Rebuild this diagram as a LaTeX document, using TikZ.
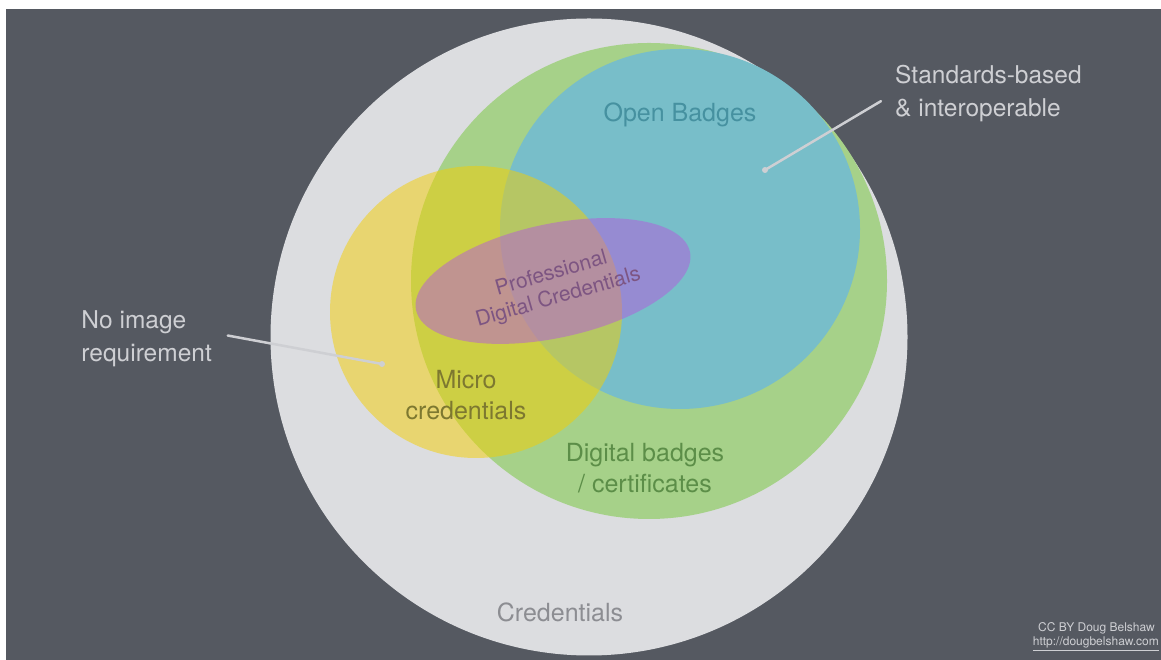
\documentclass[tikz,border=0pt]{standalone}
\usepackage{fontspec}
\setmainfont{TeX Gyre Heros}
\usetikzlibrary{shapes.geometric}
\usetikzlibrary{positioning}
\definecolor{slate}{RGB}{85,89,97}
\definecolor{credgrey}{RGB}{220,221,224}
\definecolor{badgegreen}{RGB}{166,209,137}
\definecolor{openblue}{RGB}{120,190,201}
\definecolor{microyellow}{RGB}{244,207,1}
\definecolor{profpurple}{RGB}{180,90,220}
\definecolor{notegrey}{RGB}{206,207,211}
\definecolor{credtext}{RGB}{140,141,146}
\definecolor{digitaltext}{RGB}{92,142,72}
\definecolor{opentext}{RGB}{70,145,160}
\definecolor{microtext}{RGB}{125,120,48}
\definecolor{proftext}{RGB}{125,85,130}
\tikzset{
  set/.style={circle, inner sep=0pt, draw=none},
  lbl/.style={align=center, inner sep=2pt, font=\fontsize{25}{31}\selectfont},
  note/.style={align=left, inner sep=2pt, text=notegrey, font=\fontsize{24.5}{33}\selectfont},
  foot/.style={inner sep=1pt, text=notegrey, font=\fontsize{12}{13}\selectfont},
  pointer/.style={draw=notegrey, line width=2.5pt, line cap=round},
  node distance=2pt
}
\begin{document}
\begin{tikzpicture}[x=1pt,y=1pt]
\useasboundingbox (0,0) rectangle (1161,660);
\fill[white] (0,0) rectangle (1161,660);
\fill[slate] (6,0) rectangle (1161,651);

% sets
\node[set, fill=credgrey, minimum size=637pt] (cred) at (589,323) {};
\node[set, fill=badgegreen, minimum size=476pt] (digital) at (649,379) {};
\node[set, fill=openblue, minimum size=360pt] (open) at (680,431) {};
\node[set, fill=microyellow, fill opacity=0.5, minimum size=292pt] (micro) at (476,348) {};
\node[ellipse, fill=profpurple, fill opacity=0.5, inner sep=0pt, minimum width=280pt, minimum height=114pt, rotate=12] (prof) at (553,379) {};

% set names
\node[lbl, text=credtext] (credname) at (560,48) {Credentials};
\node[lbl, text=digitaltext] (digitalname) at (645,192) {Digital badges\\/ certificates};
\node[lbl, text=opentext] (openname) at (680,545) {Open Badges};
\node[lbl, text=microtext] (microname) at (466,265) {Micro\\credentials};
\node[lbl, text=proftext, rotate=16, font=\fontsize{21}{25}\selectfont] (profname) at (555,374) {Professional\\Digital Credentials};

% notes
\node[note, anchor=west] (std) at (893,566) {Standards-based\\\& interoperable};
\node[note, anchor=east] (noimg) at (214,321) {No image\\requirement};
\coordinate (stdtip) at (765,490);
\coordinate (noimgtip) at (382,296);
\draw[pointer, shorten <=14pt] (std.west) -- (stdtip);
\draw[pointer, shorten <=14pt] ([yshift=6pt]noimg.east) -- (noimgtip);
\fill[notegrey] (stdtip) circle (3pt) (noimgtip) circle (3pt);

% credit
\node[foot, anchor=east] (cc) at (1156,32) {CC BY Doug Belshaw};
\node[foot, below left=1pt and -4pt of cc.south east] (url) {\underline{http://dougbelshaw.com}};
\end{tikzpicture}
\end{document}
